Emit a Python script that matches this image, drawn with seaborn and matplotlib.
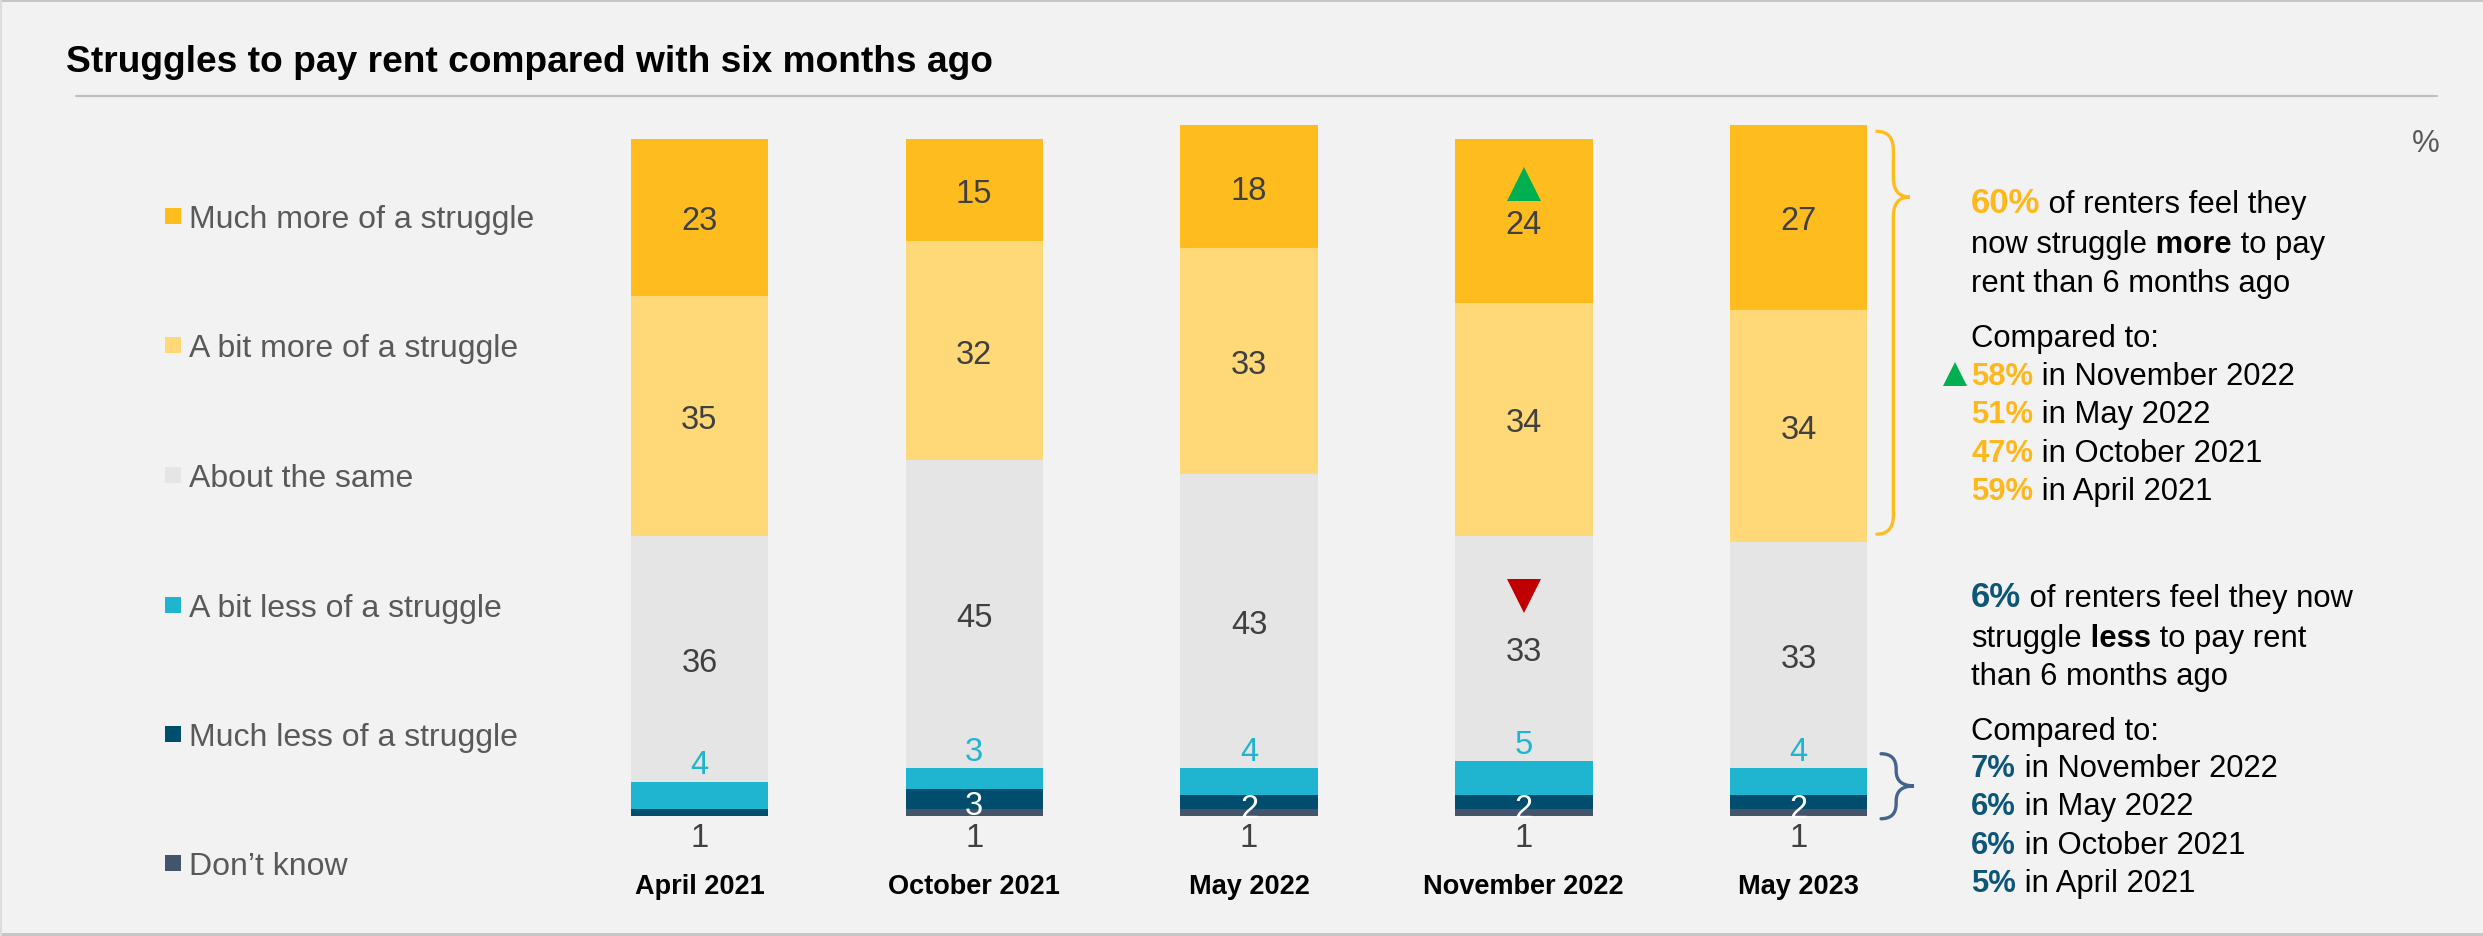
import matplotlib
matplotlib.use("Agg")
import numpy as np
import pandas as pd
import matplotlib.pyplot as plt
import seaborn as sns
from matplotlib.path import Path
from matplotlib.patches import PathPatch, Rectangle
from matplotlib.lines import Line2D

# Data
periods = ["April 2021", "October 2021", "May 2022", "November 2022", "May 2023"]
categories = ["Much more of a struggle", "A bit more of a struggle", "About the same",
              "A bit less of a struggle", "Much less of a struggle", "Don\u2019t know"]
much_more = [23, 15, 18, 24, 27]
bit_more = [35, 32, 33, 34, 34]
about_same = [36, 45, 43, 33, 33]
bit_less = [4, 3, 4, 5, 4]
much_less = [1, 3, 2, 2, 2]
dont_know = [0, 1, 1, 1, 1]

# significance markers: (bar index, category, direction)
sig_marks = [(3, "Much more of a struggle", "up"), (3, "About the same", "down")]

more_now = "60%"
more_compare = [("58%", "November 2022"), ("51%", "May 2022"),
                ("47%", "October 2021"), ("59%", "April 2021")]
less_now = "6%"
less_compare = [("7%", "November 2022"), ("6%", "May 2022"),
                ("6%", "October 2021"), ("5%", "April 2021")]

# Styling
W, H = 2483, 937
BG = "#F2F2F2"
colors = {
    "Much more of a struggle": "#FFBC1F",
    "A bit more of a struggle": "#FFD878",
    "About the same": "#E5E5E5",
    "A bit less of a struggle": "#1FB5D0",
    "Much less of a struggle": "#004D6E",
    "Don\u2019t know": "#44546A",
}
ORANGE = "#FFB81C"
NAVY = "#0E5677"
TXT = "#404040"
FONT = "Liberation Sans"

sns.set_theme(style="white")
plt.rcParams["font.family"] = [FONT, "DejaVu Sans"]

fig = plt.figure(figsize=(W / 100, H / 100), dpi=100, facecolor=BG)

def fx(x):
    return x / W

def fy(y):
    return 1 - y / H

# frame lines
fig.add_artist(Rectangle((0, fy(3)), 1, 3 / H, transform=fig.transFigure, color="#C6C6C6", lw=0))
fig.add_artist(Rectangle((0, 0), 1, 3 / H, transform=fig.transFigure, color="#C6C6C6", lw=0))
fig.add_artist(Rectangle((0, 0), 1.5 / W, 1, transform=fig.transFigure, color="#DCDCDC", lw=0))
fig.add_artist(Line2D([fx(76), fx(2437)], [fy(97), fy(97)], transform=fig.transFigure,
                      color="#C0C0C0", lw=1.6))

fig.text(fx(66), fy(72), "Struggles to pay rent compared with six months ago",
         fontsize=26.7, fontweight="bold", color="black", va="baseline", ha="left")

# Stacked bars
PX_PER_UNIT = 6.84
ax = fig.add_axes([fx(562), 120 / H, 1374 / W, 105 * PX_PER_UNIT / H])
ax.set_facecolor("none")

df = pd.DataFrame({
    "period": periods,
    "Don\u2019t know": dont_know,
    "Much less of a struggle": much_less,
    "A bit less of a struggle": bit_less,
    "About the same": about_same,
    "A bit more of a struggle": bit_more,
    "Much more of a struggle": much_more,
})
stack_order = categories[::-1]  # bottom to top
cum = df[stack_order].cumsum(axis=1)

for cat in categories:  # draw tallest cumulative first
    sns.barplot(x=df["period"], y=cum[cat], color=colors[cat], width=0.5,
                saturation=1, linewidth=0, errorbar=None, order=periods, ax=ax)

ax.set_ylim(0, 105)
ax.set_xlim(-0.5, 4.5)
for s in ax.spines.values():
    s.set_visible(False)
ax.set_yticks([])
ax.set_xlabel("")
ax.set_ylabel("")
ax.tick_params(axis="x", length=0, pad=41)
for lab in ax.get_xticklabels():
    lab.set_fontweight("bold")
    lab.set_fontsize(19.5)
    lab.set_color("black")

LBL = 23.5
for i in range(len(periods)):
    base = 0
    tops = {}
    for cat in stack_order:
        v = df.loc[i, cat]
        tops[cat] = (base, base + v)
        base += v
    for cat in ["Much more of a struggle", "A bit more of a struggle", "About the same"]:
        lo, hi = tops[cat]
        ax.text(i, (lo + hi) / 2, f"{df.loc[i, cat]}", ha="center", va="center_baseline",
                fontsize=LBL, color=TXT)
    lo, hi = tops["A bit less of a struggle"]
    ax.text(i, hi + 3, f"{df.loc[i, 'A bit less of a struggle']}", ha="center",
            va="center_baseline", fontsize=LBL, color=colors["A bit less of a struggle"])
    lo, hi = tops["Much less of a struggle"]
    if df.loc[i, "Much less of a struggle"] >= 2:
        ax.text(i, (lo + hi) / 2 - 0.4, f"{df.loc[i, 'Much less of a struggle']}", ha="center",
                va="center_baseline", fontsize=LBL, color="white")
    below = df.loc[i, "Don\u2019t know"] or df.loc[i, "Much less of a struggle"]
    ax.text(i, -2.7, f"{below}", ha="center", va="center_baseline", fontsize=LBL,
            color=TXT, clip_on=False)

    for bi, cat, d in sig_marks:
        if bi != i:
            continue
        lo, hi = tops[cat]
        mid = (lo + hi) / 2
        if d == "up":
            ax.plot(i, mid + 36.5 / PX_PER_UNIT, marker="^", markersize=25, color="#00B050",
                    markeredgewidth=0, clip_on=False)
        else:
            ax.plot(i, mid + 52 / PX_PER_UNIT, marker="v", markersize=25, color="#C00000",
                    markeredgewidth=0, clip_on=False)


# Braces next to last bar
def brace(ax, x0, xs, xt, ytop, ytip, ybot, r, color):
    verts = [(x0, ytop), (xs, ytop), (xs, ytop - r),
             (xs, ytip + r),
             (xs, ytip), (xt, ytip),
             (xs, ytip), (xs, ytip - r),
             (xs, ybot + r),
             (xs, ybot), (x0, ybot)]
    codes = [Path.MOVETO, Path.CURVE3, Path.CURVE3,
             Path.LINETO,
             Path.CURVE3, Path.CURVE3,
             Path.CURVE3, Path.CURVE3,
             Path.LINETO,
             Path.CURVE3, Path.CURVE3]
    ax.add_patch(PathPatch(Path(verts, codes), fill=False, edgecolor=color, lw=2.4,
                           clip_on=False, capstyle="round"))

brace(ax, 4.285, 4.345, 4.405, 100.1, 90.5, 41.2, 2.8, "#FFBC1F")
brace(ax, 4.30, 4.355, 4.42, 9.1, 4.4, -0.4, 2.2, "#44638F")

# Legend (manual)
leg_y = [217, 346, 476, 606, 735, 864]
for cat, y in zip(categories, leg_y):
    fig.add_artist(Rectangle((fx(165), fy(y + 8)), 16 / W, 16 / H, transform=fig.transFigure,
                             color=colors[cat], lw=0))
    fig.text(fx(189), fy(y + 11), cat, fontsize=23, color="#595959", va="baseline", ha="left")

fig.text(fx(2426), fy(152), "%", fontsize=22.5, color="#595959", ha="center", va="baseline")

# Right side commentary
renderer = fig.canvas.get_renderer()

def runs(x, y, parts):
    for txt, kw in parts:
        t = fig.text(fx(x), fy(y), txt, va="baseline", ha="left", **kw)
        x += t.get_window_extent(renderer).width

N = dict(fontsize=22.3, color="black")
B = dict(fontsize=22.3, color="black", fontweight="bold")
X0 = 1971

runs(X0, 213, [(more_now, dict(fontsize=25, fontweight="bold", color=ORANGE)),
               (" of renters feel they", N)])
runs(X0, 253, [("now struggle", N), (" more", B), (" to pay", N)])
runs(X0, 292, [("rent than 6 months ago", N)])
runs(X0, 347, [("Compared to:", N)])
for k, (p, lab) in enumerate(more_compare):
    runs(X0, 385 + k * 38.3, [(p, dict(fontsize=22.3, fontweight="bold", color=ORANGE)),
                              (" in " + lab, N)])
fig.add_artist(Line2D([fx(1955)], [fy(375)], marker="^", markersize=17, color="#00B050",
                      markeredgewidth=0, transform=fig.transFigure))

runs(X0, 607, [(less_now, dict(fontsize=25, fontweight="bold", color=NAVY)),
               (" of renters feel they now", N)])
runs(X0, 647, [("struggle", N), (" less", B), (" to pay rent", N)])
runs(X0, 685, [("than 6 months ago", N)])
runs(X0, 740, [("Compared to:", N)])
for k, (p, lab) in enumerate(less_compare):
    runs(X0, 777 + k * 38.3, [(p, dict(fontsize=22.3, fontweight="bold", color=NAVY)),
                              (" in " + lab, N)])

fig.savefig("out.png", dpi=100, facecolor=BG)
